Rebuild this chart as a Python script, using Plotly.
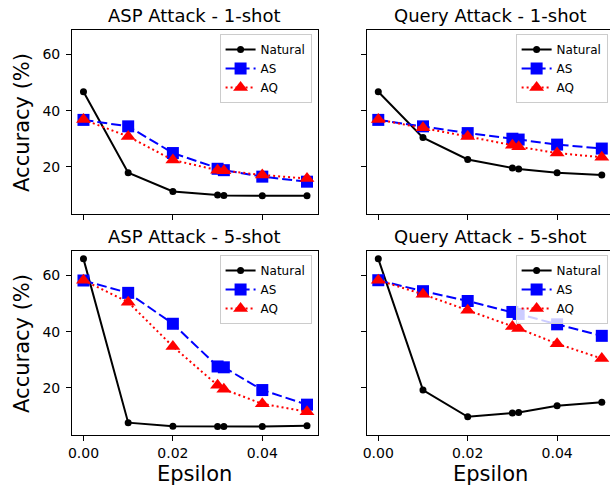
import plotly.graph_objects as go

# ---- data ----
epsilon = [0.0, 0.01, 0.02, 0.03, 0.0314, 0.04, 0.05]

asp1_natural = [46.7, 17.9, 11.2, 10.0, 9.8, 9.7, 9.7]
asp1_as = [36.7, 34.4, 24.9, 19.3, 18.8, 16.5, 14.7]
asp1_aq = [36.8, 30.8, 22.4, 18.8, 18.6, 17.1, 15.8]

qry1_natural = [46.7, 30.4, 22.6, 19.6, 19.2, 17.9, 17.1]
qry1_as = [36.7, 34.4, 32.0, 30.0, 29.7, 27.9, 26.5]
qry1_aq = [36.8, 33.9, 30.8, 27.7, 27.1, 24.9, 23.4]

asp5_natural = [65.9, 7.6, 6.3, 6.2, 6.2, 6.2, 6.5]
asp5_as = [58.2, 53.8, 42.8, 27.6, 27.3, 19.2, 14.0]
asp5_aq = [58.3, 50.5, 34.7, 20.9, 19.5, 14.3, 11.5]

qry5_natural = [65.9, 19.2, 9.7, 11.0, 11.2, 13.6, 14.9]
qry5_as = [58.3, 54.4, 50.9, 47.0, 46.3, 42.6, 38.5]
qry5_aq = [58.3, 53.3, 47.6, 41.8, 41.1, 35.7, 30.4]

titles = ["ASP Attack - 1-shot", "Query Attack - 1-shot",
          "ASP Attack - 5-shot", "Query Attack - 5-shot"]
series_names = ["Natural", "AS", "AQ"]
x_ticks = [0.0, 0.02, 0.04]
x_tick_labels = ["0.00", "0.02", "0.04"]
y_ticks = [20, 40, 60]

panels = [
    (asp1_natural, asp1_as, asp1_aq),
    (qry1_natural, qry1_as, qry1_aq),
    (asp5_natural, asp5_as, asp5_aq),
    (qry5_natural, qry5_as, qry5_aq),
]

W, H = 610, 490
FONT = "DejaVu Sans"

styles = [
    dict(color="black", dash="solid", symbol="circle", size=7),
    dict(color="#0000ff", dash="10px,4px", symbol="square", size=12),
    dict(color="#ff0000", dash="2px,3px", symbol="triangle-up", size=13),
]

fig = go.Figure()

for i, vals in enumerate(panels):
    k = "" if i == 0 else str(i + 1)
    for name, v, st in zip(series_names, vals, styles):
        fig.add_trace(go.Scatter(
            x=epsilon, y=v, name=name, mode="lines+markers",
            xaxis="x" + k, yaxis="y" + k,
            legend="legend" + k,
            line=dict(color=st["color"], width=2, dash=st["dash"]),
            marker=dict(symbol=st["symbol"], size=st["size"], color=st["color"],
                        line=dict(width=0)),
        ))

# geometry in pixels
left_x = (68.5, 316.0)
right_x = (365.5, 610.0)
top_y = (30.0, 214.0)
bot_y = (251.0, 435.0)
px_per_unit = 4500.0  # pixels per epsilon unit

def xdom(p):
    return [p[0] / W, p[1] / W]

def ydom(p):
    return [1 - p[1] / H, 1 - p[0] / H]

def xrange_for(p, x0_px):
    return [(p[0] - x0_px) / px_per_unit, (p[1] - x0_px) / px_per_unit]

yr = [3.2, 68.7]

layout = dict(
    width=W, height=H,
    margin=dict(l=0, r=0, t=0, b=0),
    plot_bgcolor="white", paper_bgcolor="white",
    font=dict(family=FONT, size=14, color="black"),
    showlegend=True,
)

cells = [
    (left_x, top_y, 80.0, False, True, True),
    (right_x, top_y, 376.75, False, False, False),
    (left_x, bot_y, 80.0, True, True, True),
    (right_x, bot_y, 376.75, True, False, False),
]

annotations = []
for i, (xp, yp, x0px, xlab, ylab, ymirror) in enumerate(cells):
    k = "" if i == 0 else str(i + 1)
    layout["xaxis" + k] = dict(
        domain=xdom(xp), range=xrange_for(xp, x0px), anchor="y" + k,
        tickvals=x_ticks, ticktext=x_tick_labels, showticklabels=xlab,
        ticks="outside", ticklen=5, tickwidth=1, tickcolor="black",
        showline=True, linecolor="black", linewidth=1, mirror=True,
        showgrid=False, zeroline=False,
        tickfont=dict(family=FONT, size=14, color="black"),
    )
    layout["yaxis" + k] = dict(
        domain=ydom(yp), range=yr, anchor="x" + k,
        tickvals=y_ticks, showticklabels=ylab,
        ticks="outside", ticklen=5, tickwidth=1, tickcolor="black",
        ticklabelstandoff=3,
        showline=True, linecolor="black", linewidth=1, mirror=ymirror,
        showgrid=False, zeroline=False,
        tickfont=dict(family=FONT, size=14, color="black"),
    )
    # legend
    lx = (217.0 if xp is left_x else 515.0) / W
    ly = 1 - (yp[0] + 4) / H
    layout["legend" + k] = dict(
        x=lx, y=ly, xanchor="left", yanchor="top",
        bgcolor="rgba(255,255,255,0.8)", bordercolor="#cccccc", borderwidth=1,
        font=dict(family=FONT, size=12, color="black"),
        tracegroupgap=0,
    )
    # title
    cx = ((xp[0] + (xp[1] if xp is left_x else 613.0)) / 2) / W
    annotations.append(dict(
        text=titles[i], x=cx, y=1 - (yp[0] - 15) / H, xref="paper", yref="paper",
        xanchor="center", yanchor="middle", showarrow=False,
        font=dict(family=FONT, size=18, color="black"),
    ))

# axis labels
for yp in (top_y, bot_y):
    annotations.append(dict(
        text="Accuracy (%)", x=18 / W, y=1 - ((yp[0] + yp[1]) / 2) / H,
        xref="paper", yref="paper", xanchor="center", yanchor="middle",
        textangle=-90, showarrow=False,
        font=dict(family=FONT, size=21, color="black"),
    ))
for cxp in ((68.5 + 316.0) / 2, (365.5 + 613.0) / 2):
    annotations.append(dict(
        text="Epsilon", x=cxp / W, y=1 - 474 / H,
        xref="paper", yref="paper", xanchor="center", yanchor="middle",
        showarrow=False,
        font=dict(family=FONT, size=21, color="black"),
    ))

layout["annotations"] = annotations
fig.update_layout(**layout)
fig.write_html(
    "out.html",
    config={"displayModeBar": False},
    post_script="document.body.style.margin='0';document.body.style.overflow='hidden';",
)
